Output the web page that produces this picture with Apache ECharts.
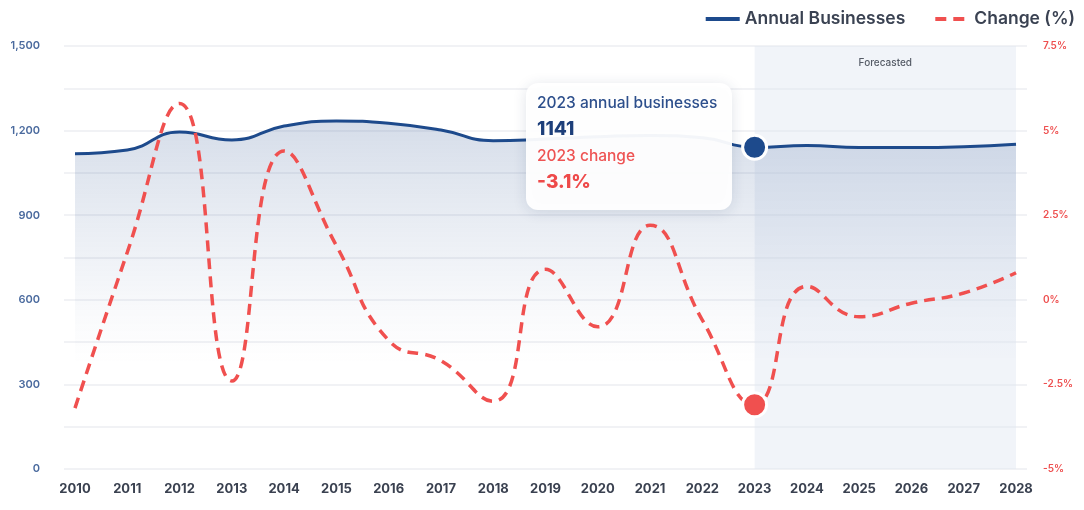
<!DOCTYPE html>
<html>
<head>
<meta charset="utf-8">
<script src="https://cdn.jsdelivr.net/npm/echarts@6/dist/echarts.min.js"></script>
<style>
  html, body { margin: 0; padding: 0; background: #fff; }
  #chart { width: 1084px; height: 510px; }
</style>
</head>
<body>
<div id="chart"></div>
<script>
// data
const years = [2010, 2011, 2012, 2013, 2014, 2015, 2016, 2017, 2018, 2019,
               2020, 2021, 2022, 2023, 2024, 2025, 2026, 2027, 2028];
const businesses = [1118, 1131, 1195, 1167, 1216, 1234, 1226, 1202, 1164, 1170,
                    1178, 1183, 1175, 1141, 1147, 1140, 1140, 1143, 1152];
const changePct = [-3.2, 1.4, 5.8, -2.4, 4.4, 1.6, -1.2, -1.8, -3.0, 0.9,
                   -0.8, 2.2, -0.6, -3.1, 0.4, -0.5, -0.1, 0.2, 0.8];
const leftTicks = [0, 300, 600, 900, 1200, 1500];
const rightTicks = [-5, -2.5, 0, 2.5, 5, 7.5];
const forecastFrom = 2023;
const forecastTo = 2028;
const highlightYear = 2023;

const BLUE = '#1d4a8c';
const RED = '#f0504f';
const FONT = 'Inter, "Noto Sans", sans-serif';

let hi = years.indexOf(highlightYear);
let bizData = years.map((y, i) => [y, businesses[i]]);
let chgData = years.map((y, i) => [y, changePct[i]]);

let chart = echarts.init(document.getElementById('chart'));
chart.setOption({
  animation: false,
  textStyle: { fontFamily: FONT },
  grid: { left: 64, right: 57, top: 46, bottom: 41 },
  legend: {
    right: 4,
    top: 5,
    itemWidth: 34,
    itemHeight: 10,
    itemGap: 28,
    itemStyle: { opacity: 0 },
    lineStyle: { width: 4 },
    textStyle: { fontSize: 17.5, fontWeight: 600, color: '#3a4252', fontFamily: FONT },
    data: ['Annual Businesses', 'Change (%)']
  },
  xAxis: {
    type: 'value',
    min: 2009.79,
    max: 2028.21,
    axisLine: { show: false },
    axisTick: { show: false },
    splitLine: { show: false },
    axisLabel: {
      customValues: years,
      formatter: v => String(v),
      fontSize: 13,
      fontWeight: 700,
      color: '#3a4150',
      margin: 14
    }
  },
  yAxis: [
    {
      type: 'value',
      min: 0,
      max: 1500,
      interval: 150,
      axisLine: { show: false },
      axisTick: { show: false },
      splitLine: { lineStyle: { color: '#eceef2', width: 1.5 } },
      axisLabel: {
        customValues: leftTicks,
        formatter: v => v.toLocaleString('en-US'),
        fontSize: 11,
        fontWeight: 600,
        color: '#4a6a9e',
        margin: 24
      }
    },
    {
      type: 'value',
      min: -5,
      max: 7.5,
      interval: 1.25,
      axisLine: { show: false },
      axisTick: { show: false },
      splitLine: { show: false },
      axisLabel: {
        customValues: rightTicks,
        formatter: v => v + '%',
        fontSize: 10,
        fontWeight: 600,
        color: '#ee4f4f',
        margin: 16
      }
    }
  ],
  series: [
    {
      name: 'Annual Businesses',
      type: 'line',
      yAxisIndex: 0,
      smooth: 0.5,
      symbol: 'none',
      data: bizData,
      lineStyle: { color: BLUE, width: 3 },
      itemStyle: { color: BLUE },
      areaStyle: {
        color: new echarts.graphic.LinearGradient(0, 0, 0, 1, [
          { offset: 0, color: 'rgba(35,75,140,0.27)' },
          { offset: 0.15, color: 'rgba(35,75,140,0.2)' },
          { offset: 0.55, color: 'rgba(35,75,140,0.04)' },
          { offset: 0.7, color: 'rgba(35,75,140,0)' },
          { offset: 1, color: 'rgba(35,75,140,0)' }
        ])
      },
      markArea: {
        silent: true,
        itemStyle: { color: 'rgba(225,231,241,0.45)' },
        label: {
          show: true,
          position: 'insideTop',
          distance: 12,
          color: '#555b66',
          fontSize: 10,
          fontWeight: 500
        },
        data: [[{ name: 'Forecasted', xAxis: forecastFrom }, { xAxis: forecastTo }]]
      },
      z: 3
    },
    {
      name: 'Change (%)',
      type: 'line',
      yAxisIndex: 1,
      smooth: 0.5,
      symbol: 'none',
      data: chgData,
      lineStyle: { color: RED, width: 3.5, type: [11, 7] },
      itemStyle: { color: RED },
      z: 4
    },
    {
      name: 'highlightBiz',
      type: 'scatter',
      yAxisIndex: 0,
      symbolSize: 24,
      data: [bizData[hi]],
      itemStyle: { color: BLUE, opacity: 1, borderColor: '#fff', borderWidth: 3 },
      z: 6
    },
    {
      name: 'highlightChg',
      type: 'scatter',
      yAxisIndex: 1,
      symbolSize: 24,
      data: [chgData[hi]],
      itemStyle: { color: RED, opacity: 1, borderColor: '#fff', borderWidth: 3 },
      z: 6
    }
  ],
  graphic: [
    {
      type: 'group',
      left: 526,
      top: 83,
      z: 100,
      children: [
        {
          type: 'rect',
          z: 100,
          shape: { x: 0, y: 0, width: 206, height: 127, r: 12 },
          style: {
            fill: 'rgba(255,255,255,0.95)',
            shadowBlur: 14,
            shadowColor: 'rgba(30,50,90,0.14)',
            shadowOffsetY: 2
          }
        },
        {
          type: 'text',
          z: 101,
          x: 11, y: 12,
          style: { text: highlightYear + ' annual businesses', fill: '#2d4f8c', font: '500 15.5px ' + FONT }
        },
        {
          type: 'text',
          z: 101,
          x: 11, y: 37,
          style: { text: String(businesses[hi]), fill: '#1d3f7a', font: '800 19px ' + FONT }
        },
        {
          type: 'text',
          z: 101,
          x: 11, y: 65,
          style: { text: highlightYear + ' change', fill: '#ee5353', font: '500 15.5px ' + FONT }
        },
        {
          type: 'text',
          z: 101,
          x: 11, y: 90,
          style: { text: changePct[hi] + '%', fill: '#ee4a4a', font: '800 19px ' + FONT }
        }
      ]
    }
  ]
});
</script>
</body>
</html>
